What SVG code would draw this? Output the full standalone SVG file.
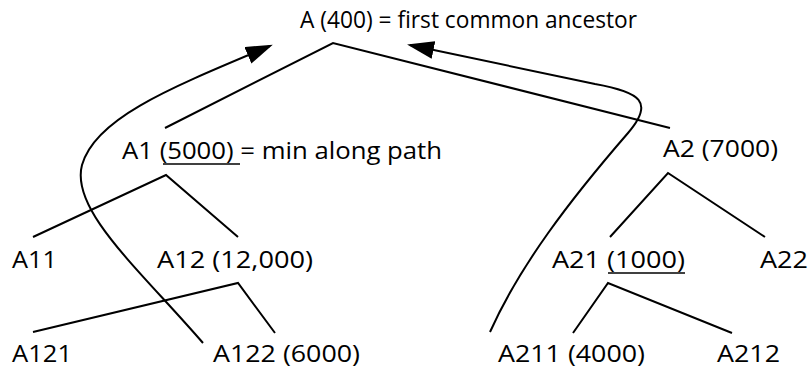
<svg xmlns="http://www.w3.org/2000/svg" width="812" height="369" viewBox="0 0 812 369">
  <style>
    text { font-family: "Open Sans", "Liberation Sans", sans-serif; font-size: 24px; fill: #000; }
    .edge { fill: none; stroke: #000; stroke-width: 2; }
    .path { fill: none; stroke: #000; stroke-width: 2; }
    .u { stroke: #000; stroke-width: 1.6; }
  </style>
  <defs>
    <marker id="head" markerUnits="userSpaceOnUse" markerWidth="28" markerHeight="18" refX="24" refY="9" orient="auto">
      <path d="M0,0 L27,9 L0,18 z" fill="#000"/>
    </marker>
  </defs>

  <g id="edges">
    <polyline class="edge" points="165,128 333,43 670,128"/>
    <polyline class="edge" points="33,237 166,175 238,237"/>
    <polyline class="edge" points="33,332 238,283 275,333"/>
    <polyline class="edge" points="610,237 668,173 765,237"/>
    <polyline class="edge" points="573,333 608,283 732,333"/>
  </g>

  <g id="connectors">
    <path class="path" marker-end="url(#head)" d="M203,343 C140,270 70,210 82,165 C95,118 170,88 270,46"/>
    <path class="path" marker-end="url(#head)" d="M490,332 C520,265 570,200 628,133 C655,102 640,92 595,84 L410,45"/>
  </g>

  <g id="A"><text x="300" y="28" textLength="337" lengthAdjust="spacingAndGlyphs">A (400) = first common ancestor</text></g>
  <g id="A1">
    <text x="122" y="159" textLength="320" lengthAdjust="spacingAndGlyphs">A1 (5000) = min along path</text>
    <line class="u" x1="163" y1="164" x2="240" y2="164"/>
  </g>
  <g id="A2"><text x="663" y="157" textLength="115" lengthAdjust="spacingAndGlyphs">A2 (7000)</text></g>
  <g id="A11"><text x="12" y="268" textLength="45" lengthAdjust="spacingAndGlyphs">A11</text></g>
  <g id="A12"><text x="157" y="268" textLength="156" lengthAdjust="spacingAndGlyphs">A12 (12,000)</text></g>
  <g id="A21">
    <text x="552" y="268" textLength="133" lengthAdjust="spacingAndGlyphs">A21 (1000)</text>
    <line class="u" x1="608" y1="273" x2="685" y2="273"/>
  </g>
  <g id="A22"><text x="760" y="268" textLength="48" lengthAdjust="spacingAndGlyphs">A22</text></g>
  <g id="A121"><text x="12" y="362" textLength="60" lengthAdjust="spacingAndGlyphs">A121</text></g>
  <g id="A122"><text x="213" y="362" textLength="147" lengthAdjust="spacingAndGlyphs">A122 (6000)</text></g>
  <g id="A211"><text x="498" y="362" textLength="147" lengthAdjust="spacingAndGlyphs">A211 (4000)</text></g>
  <g id="A212"><text x="717" y="362" textLength="63" lengthAdjust="spacingAndGlyphs">A212</text></g>
</svg>
